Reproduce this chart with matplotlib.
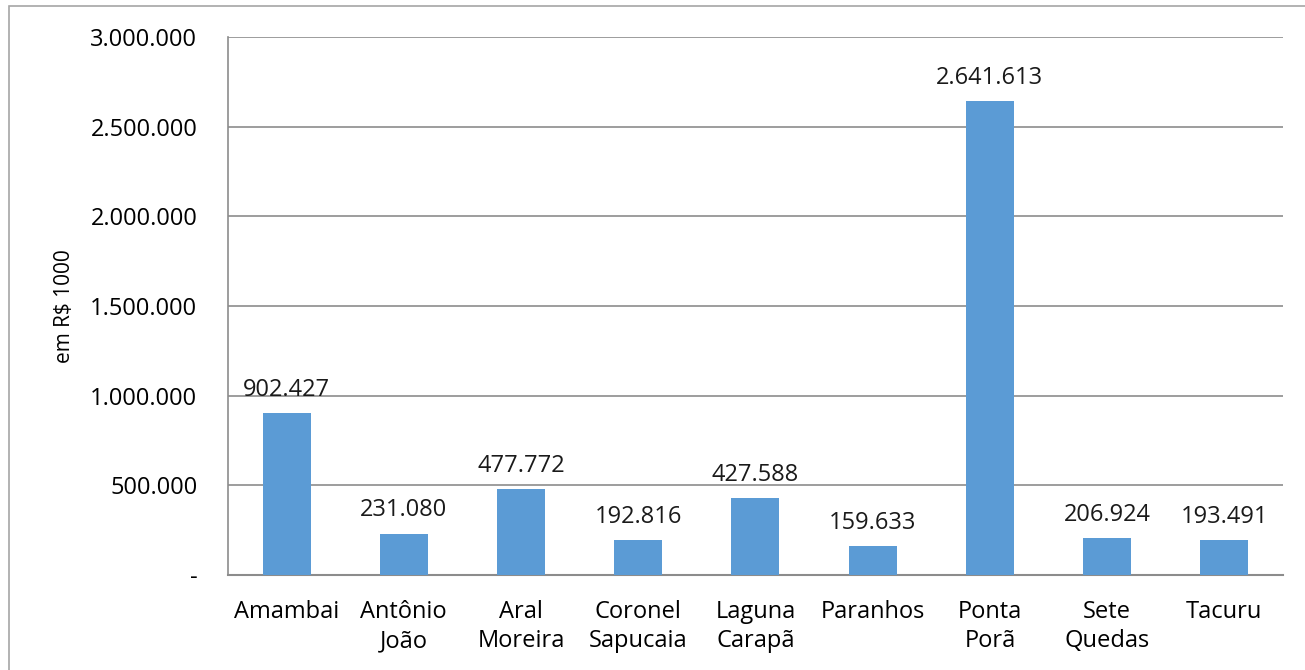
import matplotlib.pyplot as plt
from matplotlib.patches import Rectangle
from matplotlib.ticker import FuncFormatter

municipios = ['Amambai', 'Antônio\nJoão', 'Aral\nMoreira', 'Coronel\nSapucaia',
              'Laguna\nCarapã', 'Paranhos', 'Ponta\nPorã', 'Sete\nQuedas', 'Tacuru']
valores = [902427, 231080, 477772, 192816, 427588, 159633, 2641613, 206924, 193491]
y_ticks = [0, 500000, 1000000, 1500000, 2000000, 2500000, 3000000]

plt.rcParams['font.family'] = ['Open Sans', 'DejaVu Sans']


def fmt_br(v, pos=None):
    if v == 0:
        return '-'
    return f'{int(round(v)):,}'.replace(',', '.')


fig = plt.figure(figsize=(13.05, 6.7), dpi=100)
ax = fig.add_axes([0.1747, 0.1418, 0.8084, 0.803])

x = range(len(municipios))
bars = ax.bar(x, valores, width=0.41, color='#5B9BD5', zorder=3)
for xi, v in zip(x, valores):
    ax.annotate(fmt_br(v), (xi, v), xytext=(0, 8), textcoords='offset points',
                ha='center', va='bottom', fontsize=17, color='#1a1a1a')

ax.set_xlim(-0.5, len(municipios) - 0.5)
ax.set_ylim(0, 3000000)
ax.set_yticks(y_ticks)
ax.yaxis.set_major_formatter(FuncFormatter(fmt_br))
ax.set_xticks(list(x))
ax.set_xticklabels(municipios, fontsize=17, linespacing=1.3)
ax.tick_params(axis='y', length=0, pad=22, labelsize=17)
ax.tick_params(axis='x', length=0, pad=18)
ax.grid(axis='y', color='#8c8c8c', linewidth=1.2, zorder=0)

for s in ['top', 'right']:
    ax.spines[s].set_visible(False)
ax.spines['left'].set_color('#8c8c8c')
ax.spines['bottom'].set_color('#8c8c8c')
ax.spines['left'].set_linewidth(1.2)
ax.spines['bottom'].set_linewidth(1.5)

ax.set_ylabel('em R$ 1000', fontsize=15)
ax.yaxis.set_label_coords(-0.145, 0.5)

# borda do gráfico (recortada)
fig.add_artist(Rectangle((9 / 1305, -0.2), 2, 1 - 6 / 670 + 0.2, transform=fig.transFigure,
                         fill=False, edgecolor='#a6a6a6', linewidth=1.2))

fig.savefig('out.png', dpi=100)
